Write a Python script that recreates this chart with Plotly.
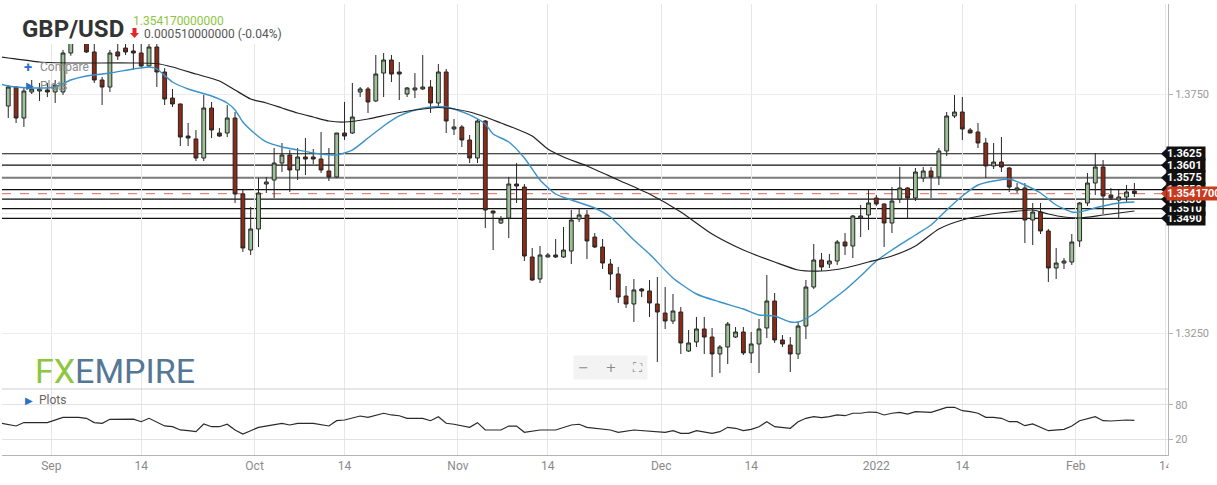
import pandas as pd
import plotly.graph_objects as go

# ---------------- data ----------------
open_ = [1.37249,1.37646,1.36998,1.37542,1.37563,1.37584,1.37542,1.37542,1.38358,1.38680,
         1.38700,1.38379,1.37793,1.37646,1.38379,1.38462,1.38400,1.38358,1.38086,1.38483,
         1.37960,1.37416,1.37291,1.36621,1.36559,1.36161,1.37207,1.36684,1.36684,1.36998,
         1.35408,1.34236,1.34676,1.35617,1.35701,1.36056,1.36224,1.35910,1.36182,1.36182,
         1.36140,1.35889,1.35764,1.36684,1.36684,1.37542,1.37605,1.37354,1.37939,1.38211,
         1.37960,1.37500,1.37584,1.37605,1.37646,1.37312,1.37960,1.36768,1.36810,1.36538,
         1.36161,1.36935,1.35052,1.34801,1.34906,1.35617,1.35554,1.34090,1.33630,1.34090,
         1.34132,1.34090,1.34215,1.34885,1.34969,1.34508,1.34299,1.33943,1.33734,1.33274,
         1.33107,1.33420,1.33379,1.33107,1.32918,1.32751,1.32939,1.32123,1.32312,1.32584,
         1.32416,1.32061,1.32207,1.32416,1.32521,1.32082,1.32270,1.32605,1.33169,1.32354,
         1.32249,1.32061,1.32646,1.33462,1.34027,1.33943,1.34006,1.34404,1.34320,1.34906,
         1.34969,1.35324,1.35199,1.34801,1.35303,1.35534,1.35324,1.35743,1.35889,1.35764,
         1.36308,1.37040,1.37123,1.36747,1.36705,1.36475,1.35994,1.36077,1.35952,1.35492,
         1.35534,1.34864,1.35031,1.34634,1.33860,1.33964,1.33985,1.34425,1.35220,1.35638,
         1.35973,1.35387,1.35282,1.35345,1.35471]
high = [1.37688,1.37667,1.37626,1.37793,1.37730,1.37730,1.37793,1.38421,1.38920,1.38740,
        1.38760,1.38600,1.37856,1.38421,1.38600,1.38560,1.38700,1.39100,1.38700,1.38620,
        1.38044,1.37605,1.37300,1.36893,1.36747,1.37479,1.37333,1.36789,1.37270,1.37123,
        1.35492,1.35136,1.35743,1.35764,1.36370,1.36475,1.36328,1.36370,1.36579,1.36349,
        1.36705,1.36370,1.36684,1.37333,1.37730,1.37646,1.37646,1.38316,1.38358,1.38316,
        1.38169,1.37646,1.37939,1.38316,1.37793,1.38128,1.38023,1.36977,1.36851,1.36642,
        1.36977,1.36956,1.35060,1.34948,1.35764,1.36056,1.35617,1.34278,1.34320,1.34174,
        1.34466,1.34718,1.35073,1.35094,1.35073,1.34592,1.34466,1.34048,1.33881,1.33483,
        1.33630,1.33441,1.33609,1.33672,1.33462,1.33316,1.33044,1.32563,1.32835,1.32835,
        1.32605,1.32249,1.32730,1.32625,1.32625,1.32521,1.32793,1.33713,1.33337,1.32458,
        1.32416,1.32730,1.33609,1.34362,1.34174,1.34153,1.34446,1.34592,1.34969,1.35178,
        1.35492,1.35387,1.35210,1.35554,1.35973,1.35554,1.35952,1.35973,1.35973,1.36370,
        1.37123,1.37479,1.37437,1.36789,1.36893,1.36579,1.36475,1.36600,1.35973,1.35638,
        1.35638,1.35220,1.35220,1.34676,1.34278,1.34069,1.34571,1.35241,1.35847,1.36266,
        1.36119,1.35534,1.35492,1.35596,1.35638]
low = [1.36998,1.36893,1.36810,1.37500,1.37354,1.37437,1.37312,1.37479,1.38300,1.38560,
       1.38358,1.37730,1.37270,1.37542,1.38211,1.38316,1.38002,1.38065,1.38065,1.37646,
       1.37270,1.37228,1.36412,1.36412,1.36098,1.36098,1.36579,1.36600,1.36600,1.35220,
       1.34195,1.34132,1.34299,1.35429,1.35324,1.35868,1.35450,1.35701,1.35805,1.36036,
       1.35847,1.35680,1.35743,1.36538,1.36663,1.37437,1.37103,1.37333,1.37437,1.37751,
       1.37374,1.37437,1.37416,1.37584,1.37103,1.37207,1.36684,1.36642,1.36391,1.36056,
       1.36056,1.34697,1.34236,1.34780,1.34487,1.35220,1.34006,1.33588,1.33546,1.34085,
       1.34069,1.34069,1.33943,1.34822,1.34048,1.34278,1.33839,1.33400,1.33128,1.33023,
       1.32730,1.33253,1.32835,1.31893,1.32584,1.32688,1.32061,1.32102,1.32207,1.32061,
       1.31579,1.31663,1.31851,1.32395,1.32040,1.31872,1.31663,1.32395,1.32291,1.32207,
       1.31684,1.31956,1.32374,1.33420,1.33797,1.33860,1.33923,1.34132,1.34069,1.34508,
       1.34655,1.35157,1.34299,1.34592,1.35220,1.34885,1.35261,1.35659,1.35324,1.35596,
       1.36203,1.36998,1.36538,1.36684,1.36370,1.35743,1.35931,1.35868,1.35450,1.35429,
       1.34383,1.34341,1.34571,1.33567,1.33630,1.33839,1.33923,1.34299,1.35157,1.35387,
       1.34990,1.35282,1.34885,1.35241,1.35345]
close = [1.37646,1.36998,1.37563,1.37605,1.37605,1.37542,1.37688,1.38358,1.38680,1.38700,
         1.38379,1.37793,1.37646,1.38358,1.38295,1.38379,1.38358,1.38086,1.38483,1.37960,
         1.37395,1.37291,1.36600,1.36579,1.36161,1.37207,1.36747,1.36621,1.36998,1.35408,
         1.34278,1.34676,1.35429,1.35659,1.36056,1.36224,1.35910,1.36182,1.36140,1.36140,
         1.35910,1.35764,1.36684,1.36621,1.37019,1.37605,1.37333,1.37918,1.38211,1.37918,
         1.37918,1.37626,1.37626,1.37646,1.37312,1.37960,1.36935,1.36810,1.36538,1.36161,
         1.36935,1.35073,1.35010,1.34885,1.35617,1.35575,1.34111,1.33609,1.34132,1.34132,
         1.34090,1.34236,1.34864,1.34969,1.34425,1.34299,1.33964,1.33734,1.33253,1.33107,
         1.33400,1.33379,1.33128,1.32939,1.32751,1.32960,1.32291,1.32291,1.32584,1.32416,
         1.32061,1.32207,1.32688,1.32521,1.32082,1.32270,1.32584,1.33169,1.32354,1.32270,
         1.32061,1.32646,1.33462,1.34027,1.33881,1.34006,1.34404,1.34320,1.34948,1.34948,
         1.35220,1.35199,1.34801,1.35261,1.35534,1.35324,1.35868,1.35889,1.35764,1.36308,
         1.37040,1.37123,1.36768,1.36684,1.36475,1.35994,1.36077,1.35973,1.35554,1.35534,
         1.34864,1.35031,1.34634,1.33860,1.33964,1.34006,1.34404,1.35220,1.35638,1.35973,
         1.35366,1.35324,1.35345,1.35450,1.35417]

# moving averages: (candle index, value)
ma_fast_idx = [-1,0,3,6,8,10,13,16,18,19,21,23,26,28,29,30,31,33,35,37,40,42,44,46,48,50,52,54,56,57,
               59,61,62,64,66,68,70,72,75,77,80,82,85,88,91,94,96,98,100,101,103,105,107,109,111,
               113,116,118,120,122,124,126,128,130,132,134,136,137,138,140,142,144]
ma_fast_val = [1.37709,1.37667,1.37626,1.37646,1.37793,1.37877,1.37939,1.38023,1.38065,1.38023,
               1.37751,1.37605,1.37458,1.37312,1.37165,1.36914,1.36747,1.36496,1.36391,1.36328,
               1.36245,1.36224,1.36328,1.36579,1.36831,1.37040,1.37165,1.37228,1.37228,1.37186,
               1.37061,1.36872,1.36663,1.36496,1.36161,1.35701,1.35408,1.35282,1.35115,1.34927,
               1.34446,1.34153,1.33651,1.33316,1.33149,1.33002,1.32877,1.32856,1.32730,1.32730,
               1.32898,1.33149,1.33400,1.33692,1.34006,1.34236,1.34550,1.34759,1.35073,1.35366,
               1.35596,1.35680,1.35722,1.35596,1.35429,1.35178,1.35031,1.35031,1.35073,1.35157,
               1.35220,1.35241]
ma_slow_idx = [-1,0,4,8,12,16,19,21,24,27,29,31,33,35,37,39,41,43,46,49,52,55,57,59,61,63,65,67,
               69,71,74,78,82,86,90,94,98,101,104,107,110,113,116,119,122,125,128,131,133,135,
               137,140,142,144]
ma_slow_val = [1.38274,1.38253,1.38169,1.38149,1.38149,1.38149,1.38138,1.38065,1.37918,1.37772,
               1.37584,1.37395,1.37312,1.37207,1.37103,1.37019,1.36935,1.36914,1.36977,1.37082,
               1.37165,1.37218,1.37186,1.37123,1.37019,1.36893,1.36768,1.36621,1.36349,1.36182,
               1.35994,1.35701,1.35408,1.35031,1.34571,1.34236,1.33985,1.33818,1.33797,1.33860,
               1.33985,1.34111,1.34320,1.34676,1.34864,1.34969,1.35031,1.35073,1.34990,1.34927,
               1.34906,1.34969,1.35010,1.35052]

# lower oscillator: (candle index, value)
osc_idx = [-1,1,2,5,7,9,10,11,12,13,16,17,18,20,21,22,23,24,25,26,27,28,29,30,31,32,35,36,37,39,
           41,42,43,45,46,48,49,50,51,53,54,55,56,57,59,60,61,63,64,65,66,68,70,72,73,74,77,78,
           80,82,84,85,86,87,88,90,91,92,93,94,95,96,97,98,100,101,102,103,104,105,106,107,108,
           109,110,111,112,113,114,115,116,118,119,120,121,122,123,124,125,126,127,128,129,130,
           131,132,133,135,136,137,138,139,140,141,143,144]
osc_val = [48,43,49,49,58,58,56.5,49,47.7,54.8,55,50.5,56.5,43,41.7,36,34.7,33,46.5,41.7,
           41.7,46,36,28.8,34.7,40.6,47.7,44.7,47.7,47.7,43,52.3,53.5,60.6,58.3,65.4,62.4,61,
           56.5,56.5,52.3,59.4,47.7,46,40.6,48.8,35.9,35.9,42.9,42.9,31.8,35.9,35.9,44.7,46,
           40.6,35.9,31.8,35.9,34.1,31.8,34.7,30,30,34.7,30,32.9,40.6,38.9,34.7,37.1,41.7,
           50.5,41.7,38.9,50.5,56.5,59.4,57.6,59.4,62.4,61.1,65.4,65.4,67.6,67.1,62.4,65.4,
           67.1,64.1,68.2,67.1,71.2,75.9,75.9,69.9,68.2,65.4,58.3,58.3,56.5,50.5,50.5,43.5,
           46.5,40.6,34.7,37.1,42.9,52.3,56.5,59.4,52.3,51.8,53.5,53]

levels = [1.3625, 1.3601, 1.3575, 1.3550, 1.3530, 1.3510, 1.3490]
last_price = 1.35417

tick_dates = ["2021-09-01","2021-09-14","2021-10-01","2021-10-14","2021-11-01","2021-11-14",
              "2021-12-01","2021-12-14","2022-01-02","2022-01-14","2022-02-01","2022-02-14"]
tick_text = ["Sep","14","Oct","14","Nov","14","Dec","14","2022","14","Feb","14"]

# ---------------- layout helpers ----------------
W, H = 1217, 485
ML, MR, MT, MB = 2, 49, 4, 30
PW, PH = W - ML - MR, H - MT - MB
def px(x):  # pixel x -> paper
    return (x - ML) / PW
def py(y):  # pixel y -> paper
    return (H - MB - y) / PH

LOWER_TOP = 389
split = py(LOWER_TOP)
SCALE = 4780.0  # pixels per price unit in the main panel

# trading calendar (FX: Sunday to Friday)
calendar = pd.bdate_range("2021-08-25", "2022-02-20", freq="C",
                          weekmask="Sun Mon Tue Wed Thu Fri")
cal_pos = {d.strftime("%Y-%m-%d"): i for i, d in enumerate(calendar)}
n = len(close)
xs = list(range(n))
tick_vals = []
for d, t in zip(tick_dates, tick_text):
    p = cal_pos[d]
    tick_vals.append(p - 0.5 if not t.isdigit() else p)

XR = [-0.8, 148.3]

fig = go.Figure()
fig.add_trace(go.Candlestick(
    x=xs, open=open_, high=high, low=low, close=close,
    increasing=dict(fillcolor="#9dc196", line=dict(color="#262626", width=1)),
    decreasing=dict(fillcolor="#8c2a16", line=dict(color="#262626", width=1)),
    whiskerwidth=0, xaxis="x", yaxis="y", hoverinfo="skip", showlegend=False))
fig.add_trace(go.Scatter(x=ma_fast_idx, y=ma_fast_val, mode="lines",
                         line=dict(color="#3a92c9", width=1.4, shape="spline", smoothing=0.6),
                         xaxis="x", yaxis="y", hoverinfo="skip", showlegend=False))
fig.add_trace(go.Scatter(x=ma_slow_idx, y=ma_slow_val, mode="lines",
                         line=dict(color="#222222", width=1.2, shape="spline", smoothing=0.6),
                         xaxis="x", yaxis="y", hoverinfo="skip", showlegend=False))
fig.add_trace(go.Scatter(x=osc_idx, y=osc_val, mode="lines",
                         line=dict(color="#2a2a2a", width=1.2),
                         xaxis="x2", yaxis="y2", hoverinfo="skip", showlegend=False))

shapes = []
for lv in levels:
    gray = abs(lv - 1.3575) < 1e-9
    shapes.append(dict(type="line", xref="paper", yref="y", x0=0, x1=1, y0=lv, y1=lv,
                       layer="between",
                       line=dict(color="#7a7a7a" if gray else "#111111", width=2 if gray else 1.2)))
shapes.append(dict(type="line", xref="paper", yref="y", x0=0, x1=1, y0=last_price, y1=last_price,
                   layer="between", line=dict(color="#e0897a", width=1.2, dash="dash")))
# panel separator
shapes.append(dict(type="line", xref="paper", yref="paper", x0=0, x1=1, y0=split, y1=split,
                   line=dict(color="#cfcfcf", width=1)))
# header background covering chart top-left
shapes.append(dict(type="rect", xref="paper", yref="paper", x0=px(0), x1=px(280),
                   y0=py(44), y1=py(0), fillcolor="white", line=dict(width=0), layer="above"))
# price-axis column covering overflow of the last x label
shapes.append(dict(type="rect", xref="paper", yref="paper", x0=px(1168.5), x1=px(1217),
                   y0=py(485), y1=py(456), fillcolor="white", line=dict(width=0),
                   layer="above"))
# red down arrow of the header
ax0, ay0 = 130, 28
shapes.append(dict(type="path", xref="paper", yref="paper",
                   path=(f"M {px(ax0+2.5)},{py(ay0)} L {px(ax0+6.5)},{py(ay0)} "
                         f"L {px(ax0+6.5)},{py(ay0+5)} L {px(ax0+9)},{py(ay0+5)} "
                         f"L {px(ax0+4.5)},{py(ay0+10)} L {px(ax0)},{py(ay0+5)} "
                         f"L {px(ax0+2.5)},{py(ay0+5)} Z"),
                   fillcolor="#e3242b", line=dict(width=0), layer="above"))

annotations = []
# notched labels on the right
def add_label(val, text, color, width=38, fcolor="white"):
    d = 6.5 / SCALE
    shapes.append(dict(type="path", xref="paper", yref="y",
                       path=f"M {px(1161)},{val} L {px(1168)},{val + d} L {px(1168)},{val - d} Z",
                       fillcolor=color, line=dict(width=0), layer="above"))
    annotations.append(dict(xref="paper", yref="y", x=px(1166), y=val, xanchor="left",
                            yanchor="middle", text=f"<b>{text}</b>", showarrow=False,
                            bgcolor=color, borderpad=0, width=width, height=13,
                            align="left", valign="middle",
                            font=dict(family="Roboto", size=11, color=fcolor)))

for lv in [1.3625, 1.3601, 1.3575, 1.3490, 1.3550, 1.3510, 1.3530]:
    add_label(lv, f"{lv:.4f}", "#111111")
add_label(last_price, "1.3541700", "#c83b1d", width=60)

def ann(x, y, text, size=12, color="#333", family="Roboto", xanchor="left", **kw):
    annotations.append(dict(xref="paper", yref="paper", x=px(x), y=py(y), text=text,
                            showarrow=False, xanchor=xanchor, yanchor="middle",
                            font=dict(family=family, size=size, color=color), **kw))

ann(20, 29, "<b>GBP/USD</b>", size=24, color="#333333")
ann(131, 21, "1.354170000000", size=12, color="#8cc63e")
ann(142, 34, "0.000510000000 (-0.04%)", size=12, color="#555555")
ann(22, 67, "<b>+</b>", size=15, color="#2a72c8")
ann(38, 67, "Compare", size=12, color="#8a8a8a")
ann(24, 86, "▶", size=10, color="#2a72c8", family="DejaVu Sans")
ann(38, 86, "Plots", size=12, color="#8a8a8a")
ann(23, 400, "▶", size=10, color="#2a72c8", family="DejaVu Sans")
ann(37, 400, "Plots", size=12, color="#666666")
ann(33, 371, '<span style="color:#8dc63f">FX</span><span style="color:#557796">EMPIRE</span>',
    size=34, family="Roboto")
ann(611, 367, "−    +    ⛶", size=13, color="#8a8a8a", family="DejaVu Sans", xanchor="center",
    bgcolor="#f3f3f3", borderpad=4)

axis_font = dict(family="Roboto", size=11, color="#9a9a9a")
fig.update_layout(
    width=W, height=H, margin=dict(l=ML, r=MR, t=MT, b=MB),
    paper_bgcolor="white", plot_bgcolor="white", showlegend=False,
    xaxis=dict(domain=[0, 1], anchor="y", range=XR, tickvals=tick_vals, showticklabels=False,
               showgrid=True, gridcolor="#e6e6e6", zeroline=False, ticks="",
               rangeslider=dict(visible=False), fixedrange=True),
    xaxis2=dict(domain=[0, 1], anchor="y2", range=XR, matches="x", tickvals=tick_vals,
                ticktext=tick_text, showgrid=True, gridcolor="#e6e6e6", zeroline=False,
                ticks="", showline=True, linecolor="#b5b5b5",
                tickfont=dict(family="Roboto", size=12, color="#8a8a8a")),
    yaxis=dict(domain=[split, 1], anchor="x", side="right",
               range=[1.3750 - (LOWER_TOP - 94) / SCALE, 1.3750 + (94 - MT) / SCALE],
               tickvals=[1.325, 1.35, 1.375], ticktext=["1.3250", "", "1.3750"],
               showgrid=True, gridcolor="#ececec", zeroline=False, showline=True,
               linecolor="#b5b5b5", ticks="outside", ticklen=4, tickcolor="#b5b5b5",
               tickfont=axis_font),
    yaxis2=dict(domain=[0, split], anchor="x2", side="right", range=[-8.2, 108.2],
                tickvals=[20, 80], showgrid=True, gridcolor="#e2e2e2", zeroline=False,
                showline=True, linecolor="#b5b5b5", ticks="outside", ticklen=4,
                tickcolor="#b5b5b5", tickfont=axis_font),
    shapes=shapes, annotations=annotations,
)
fig.write_html("out.html")
